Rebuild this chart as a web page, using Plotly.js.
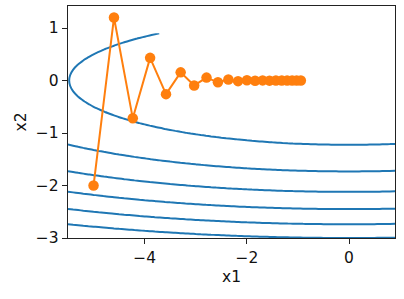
<!DOCTYPE html>
<html><head><meta charset="utf-8">
<script src="https://cdn.plot.ly/plotly-3.0.1.min.js"></script>
<style>html,body{margin:0;padding:0;background:#fff;}</style>
</head><body><div id="chart" style="width:404px;height:299px;"></div>
<script>
// Trajectory points (x1, x2)
const trajX1 = [-5.0, -4.6, -4.232, -3.893, -3.582, -3.295, -3.031, -2.789, -2.566, -2.361, -2.172, -1.998, -1.838, -1.691, -1.556, -1.431, -1.317, -1.211, -1.114, -1.025, -0.943];
const trajX2 = [-2.0, 1.2, -0.72, 0.432, -0.259, 0.156, -0.093, 0.056, -0.034, 0.020, -0.012, 0.007, -0.004, 0.003, -0.002, 0.001, -0.001, 0.0, 0.0, 0.0, 0.0];
// Contour surface: f(x1, x2) = c1*x1^2 + c2*x2^2
const coefX1 = 0.1;
const coefX2 = 2.0;
const gridX1Start = -5.5, gridX1End = 0.9, gridX2Start = -3.0, gridX2End = 0.9, gridStep = 0.1;
const contourLevels = [3, 6, 9, 12, 15, 18];
const xTickVals = [-4, -2, 0], xTickText = ['\u22124', '\u22122', '0'];
const yTickVals = [-3, -2, -1, 0, 1], yTickText = ['\u22123', '\u22122', '\u22121', '0', '1'];

const gx = [], gy = [];
for (let i = 0; gridX1Start + i * gridStep <= gridX1End + 1e-9; i++) gx.push(+(gridX1Start + i * gridStep).toFixed(2));
for (let j = 0; gridX2Start + j * gridStep <= gridX2End + 1e-9; j++) gy.push(+(gridX2Start + j * gridStep).toFixed(2));
const gz = gy.map(b => gx.map(a => coefX1 * a * a + coefX2 * b * b));

const blue = '#1f77b4', orange = '#ff7f0e';
const data = [
  {type: 'contour', x: gx, y: gy, z: gz, showscale: false, hoverinfo: 'skip',
   contours: {coloring: 'lines', start: contourLevels[0], end: contourLevels[contourLevels.length - 1], size: contourLevels[1] - contourLevels[0]},
   colorscale: [[0, blue], [1, blue]], line: {width: 2, smoothing: 1}},
  {type: 'scatter', mode: 'lines+markers', x: trajX1, y: trajX2,
   line: {color: orange, width: 2}, marker: {color: orange, size: 10.5}}
];
const fontSpec = {family: 'DejaVu Sans', size: 15.5, color: '#111'};
const axisCommon = {showgrid: false, zeroline: false, showline: true, mirror: true, linecolor: '#222', linewidth: 1.2,
  ticks: 'outside', ticklen: 5, tickwidth: 1, tickcolor: '#222', tickfont: fontSpec};
const layout = {
  width: 404, height: 299, showlegend: false,
  paper_bgcolor: '#fff', plot_bgcolor: '#fff',
  margin: {l: 68, r: 9, t: 6, b: 61},
  xaxis: Object.assign({}, axisCommon, {range: [-5.5, 0.9], tickvals: xTickVals, ticktext: xTickText,
    title: {text: 'x1', font: fontSpec, standoff: 5}}),
  yaxis: Object.assign({}, axisCommon, {range: [-3, 1.42], tickvals: yTickVals, ticktext: yTickText,
    title: {text: 'x2', font: fontSpec, standoff: 5}}),
  font: {family: 'DejaVu Sans'}
};
Plotly.newPlot('chart', data, layout, {staticPlot: true, displayModeBar: false});
</script></body></html>
